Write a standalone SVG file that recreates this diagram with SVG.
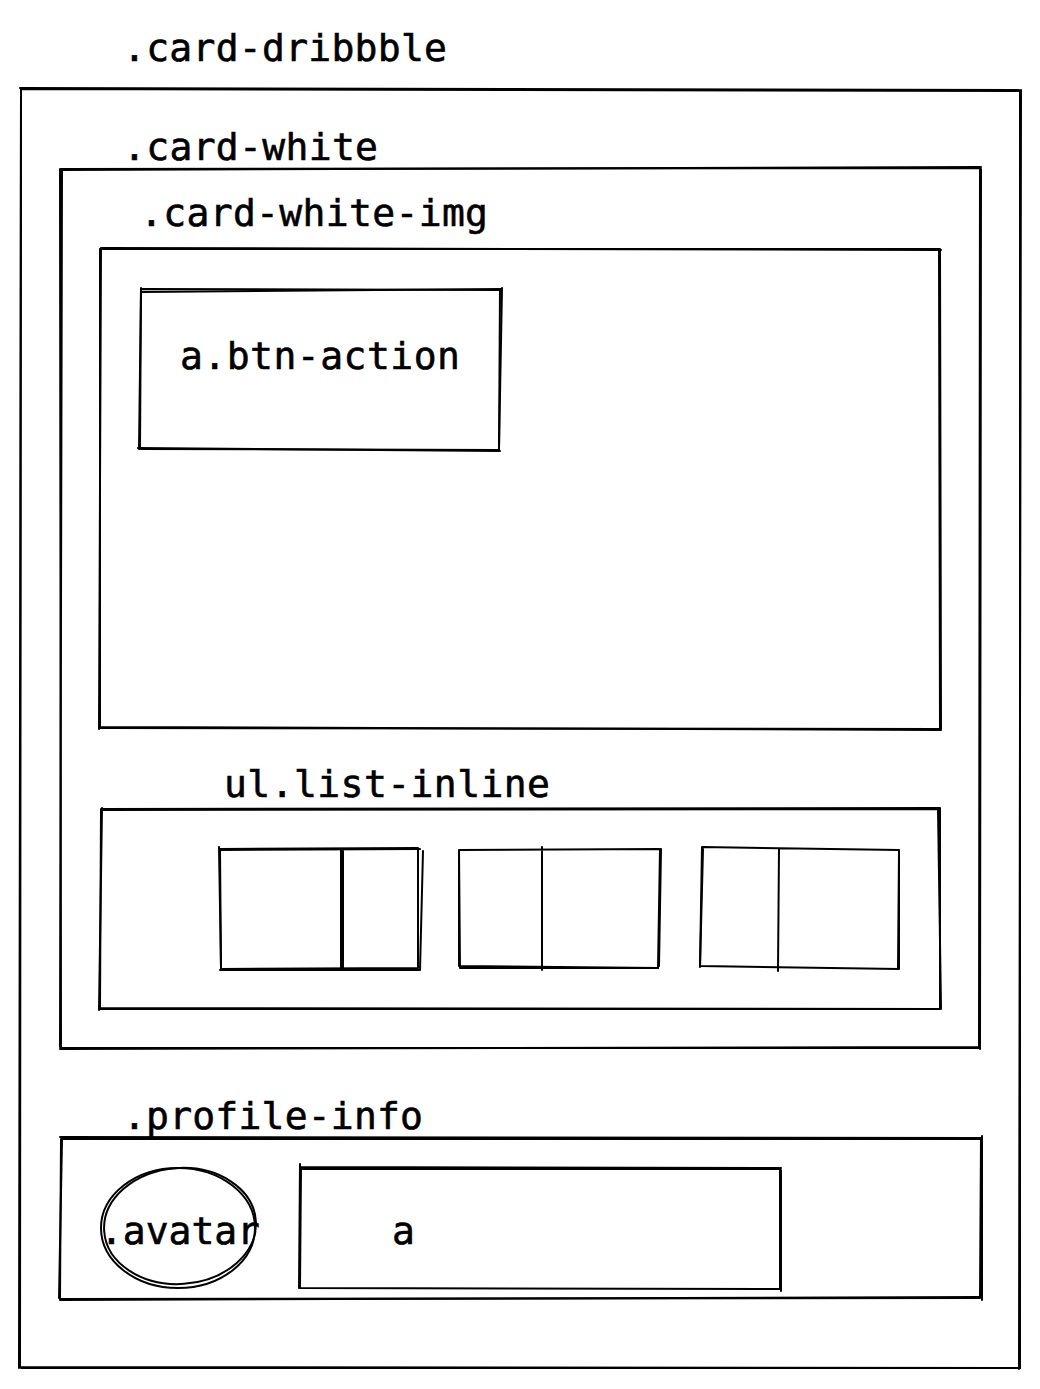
<svg xmlns="http://www.w3.org/2000/svg" width="1040" height="1389" viewBox="0 0 1040 1389">
<style>
.s{fill:none;stroke:#000;stroke-width:2;stroke-linecap:round;stroke-linejoin:round}
.t{font-family:"DejaVu Sans Mono","Liberation Mono",monospace;font-size:38px;fill:#000;stroke:#000;stroke-width:0.6}
</style>
<rect width="1040" height="1389" fill="#fff"/>
<g id="card-dribbble">
<path class="s" d="M21 89 L1020 91 L1020 1368 L20 1367 Z"/>
<path class="s" d="M20 88 L1019 90 M1021 90 L1019 1369 M1020 1368 L21 1368 M19 1368 L21 90" stroke-width="1.2"/>
<text class="t" x="123" y="61" textLength="324">.card-dribbble</text>
</g>
<g id="card-white">
<path class="s" d="M60 169 L980 168 L979 1048 L61 1048 Z"/>
<path class="s" d="M61 170 L981 167 M981 169 L980 1049 M979 1047 L60 1049 M60 1047 L62 169" stroke-width="1.2"/>
<text class="t" x="123" y="160" textLength="255">.card-white</text>
</g>
<g id="card-white-img">
<path class="s" d="M100 249 L940 249 L941 729 L100 728 Z"/>
<path class="s" d="M101 248 L941 250 M939 250 L940 730 M941 730 L99 727 M99 729 L101 249" stroke-width="1.2"/>
<text class="t" x="140" y="226" textLength="348">.card-white-img</text>
</g>
<g id="btn-action">
<path class="s" d="M141 289 L500 290 L499 450 L139 449 Z"/>
<path class="s" d="M142 292 L501 289 M502 288 L499 449 M500 451 L138 448 M140 449 L141 288" stroke-width="1.2"/>
<text class="t" x="180" y="369" textLength="280">a.btn-action</text>
</g>
<g id="list-inline">
<path class="s" d="M101 809 L940 808 L940 1009 L100 1008 Z"/>
<path class="s" d="M102 810 L939 809 M938 809 L941 1008 M941 1009 L99 1009 M102 808 L99 1010" stroke-width="1.2"/>
<text class="t" x="224" y="797" textLength="326">ul.list-inline</text>
</g>
<g id="li-1">
<path class="s" d="M220 849 L418 848 L418 968 L221 969 Z M341 849 L341 969"/>
<path class="s" d="M219 850 L420 849 M423 851 L420 970 M419 970 L220 970 M219 847 L221 968 M343 850 L343 968" stroke-width="1.2"/>
</g>
<g id="li-2">
<path class="s" d="M459 850 L660 849 L658 968 L459 966 Z M542 847 L542 970"/>
<path class="s" d="M459 851 L460 968 M460 968 L658 968 M661 849 L659 966" stroke-width="1.2"/>
</g>
<g id="li-3">
<path class="s" d="M702 847 L899 850 L899 969 L700 966 Z M779 849 L778 971"/>
<path class="s" d="M703 849 L700 967 M899 852 L898 968" stroke-width="1.2"/>
</g>
<g id="profile-info">
<path class="s" d="M61 1139 L981 1139 L980 1298 L60 1299 Z"/>
<path class="s" d="M60 1137 L982 1138 M982 1136 L982 1300 M980 1297 L60 1300 M62 1140 L59 1298" stroke-width="1.2"/>
<text class="t" x="123" y="1129" textLength="300">.profile-info</text>
</g>
<g id="avatar">
<ellipse class="s" cx="178" cy="1228" rx="77" ry="60"/>
<ellipse class="s" cx="180" cy="1226" rx="76" ry="58" stroke-width="1.2" transform="rotate(-4 180 1226)"/>
<text class="t" x="100" y="1244" textLength="160">.avatar</text>
</g>
<g id="link-a">
<path class="s" d="M301 1169 L780 1169 L780 1289 L300 1288 Z"/>
<path class="s" d="M300 1167 L781 1168 M781 1170 L781 1291 M300 1164 L299 1288" stroke-width="1.2"/>
<text class="t" x="392" y="1244">a</text>
</g>
<g id="connectors"></g>
</svg>
